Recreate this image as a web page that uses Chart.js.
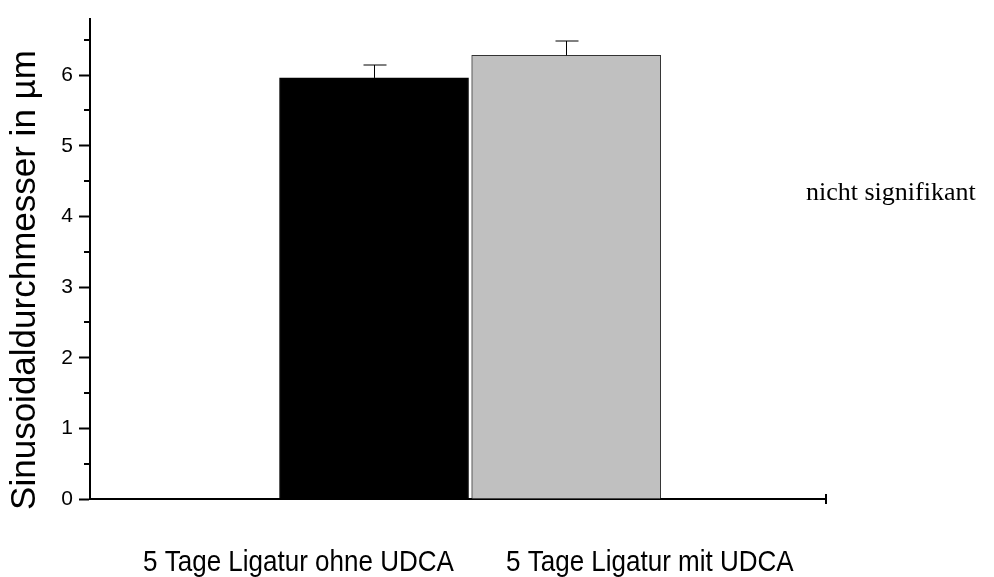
<!DOCTYPE html>
<html>
<head>
<meta charset="utf-8">
<script src="https://cdn.jsdelivr.net/npm/chart.js@4/dist/chart.umd.min.js"></script>
<style>
  html, body { margin: 0; padding: 0; background: #ffffff; }
  #wrap { width: 994px; height: 577px; position: relative; }
</style>
</head>
<body>
<div id="wrap"><canvas id="c" width="994" height="577"></canvas></div>
<script>
// Groups, bar positions on the x scale, means and upper error (SEM) in µm
const categories = ['5 Tage Ligatur ohne UDCA', '5 Tage Ligatur mit UDCA'];
const barPositions = [1, 2];
const meanDiameter = [5.96, 6.28];
const errorUpper = [0.19, 0.20];
const barColors = ['#000000', '#c0c0c0'];
const barBorders = ['#000000', '#333333'];
const yMajorTicks = [0, 1, 2, 3, 4, 5, 6];
const yMinorTicks = [0.5, 1.5, 2.5, 3.5, 4.5, 5.5, 6.5];
const yTitle = 'Sinusoidaldurchmesser in µm';
const noteText = 'nicht signifikant';

const SANS = '"Liberation Sans", Arial, sans-serif';
const SERIF = '"Liberation Serif", "Times New Roman", serif';

// Whiskers above each bar, minor ticks, axis title, group labels and note
const decorations = {
  id: 'decorations',
  afterDatasetsDraw(chart) {
    const ctx = chart.ctx;
    const y = chart.scales.y;
    const meta = chart.getDatasetMeta(0);
    ctx.save();
    ctx.strokeStyle = '#000';
    ctx.lineWidth = 1;
    meta.data.forEach((bar, i) => {
      const x = Math.round(bar.x) + 0.5;
      const yTop = Math.round(y.getPixelForValue(meanDiameter[i] + errorUpper[i]));
      ctx.beginPath();
      ctx.moveTo(x, bar.y);
      ctx.lineTo(x, yTop);
      ctx.moveTo(x - 11, yTop);
      ctx.lineTo(x + 12, yTop);
      ctx.stroke();
    });
    ctx.restore();
  },
  afterDraw(chart) {
    const ctx = chart.ctx;
    const y = chart.scales.y;
    const x = chart.scales.x;
    const area = chart.chartArea;
    ctx.save();
    ctx.strokeStyle = '#000';
    ctx.lineWidth = 2;
    yMinorTicks.forEach(v => {
      const py = Math.round(y.getPixelForValue(v));
      ctx.beginPath();
      ctx.moveTo(area.left - 6, py);
      ctx.lineTo(area.left, py);
      ctx.stroke();
    });
    // end tick of the x axis
    const xr = Math.round(x.right);
    ctx.beginPath();
    ctx.moveTo(xr, area.bottom - 5);
    ctx.lineTo(xr, area.bottom + 5);
    ctx.stroke();

    ctx.fillStyle = '#000';

    // y axis title, rotated, centred slightly below the plot middle
    ctx.save();
    ctx.font = '35px ' + SANS;
    ctx.textAlign = 'center';
    ctx.textBaseline = 'middle';
    ctx.translate(25, y.getPixelForValue(3.1));
    ctx.rotate(-Math.PI / 2);
    ctx.fillText(yTitle, 0, 0);
    ctx.restore();

    // group labels below the axis
    ctx.textBaseline = 'alphabetic';
    ctx.textAlign = 'left';
    ctx.font = '30px ' + SANS;
    const lefts = [143, 506];
    categories.forEach((t, i) => {
      ctx.save();
      ctx.translate(lefts[i], 571);
      ctx.scale(0.867, 1);
      ctx.fillText(t, 0, 0);
      ctx.restore();
    });

    // significance note
    ctx.font = '26px ' + SERIF;
    ctx.fillText(noteText, 806, 200);
    ctx.restore();
  }
};

new Chart(document.getElementById('c'), {
  type: 'bar',
  data: {
    datasets: [{
      data: barPositions.map((p, i) => ({ x: p, y: meanDiameter[i] })),
      backgroundColor: barColors,
      borderColor: barBorders,
      borderWidth: 1,
      barThickness: 189
    }]
  },
  options: {
    responsive: false,
    animation: false,
    events: [],
    layout: { padding: { left: 0, right: 168, top: 15, bottom: 78 } },
    plugins: { legend: { display: false }, tooltip: { enabled: false } },
    scales: {
      x: {
        type: 'linear',
        min: -0.478,
        max: 3.352,
        offset: false,
        ticks: { display: false },
        grid: { display: false },
        border: { display: true, color: '#000', width: 2 },
        afterFit(scale) { scale.height = 0; }
      },
      y: {
        min: 0,
        max: 6.8,
        ticks: {
          stepSize: 1,
          color: '#000',
          padding: 6,
          font: { family: SANS, size: 21 }
        },
        afterBuildTicks(scale) {
          scale.ticks = yMajorTicks.map(v => ({ value: v }));
        },
        grid: {
          display: true,
          drawOnChartArea: false,
          drawTicks: true,
          tickLength: 11,
          tickWidth: 2,
          tickColor: '#000'
        },
        border: { display: true, color: '#000', width: 2 },
        afterFit(scale) { scale.width = 90; }
      }
    }
  },
  plugins: [decorations]
});
</script>
</body>
</html>
